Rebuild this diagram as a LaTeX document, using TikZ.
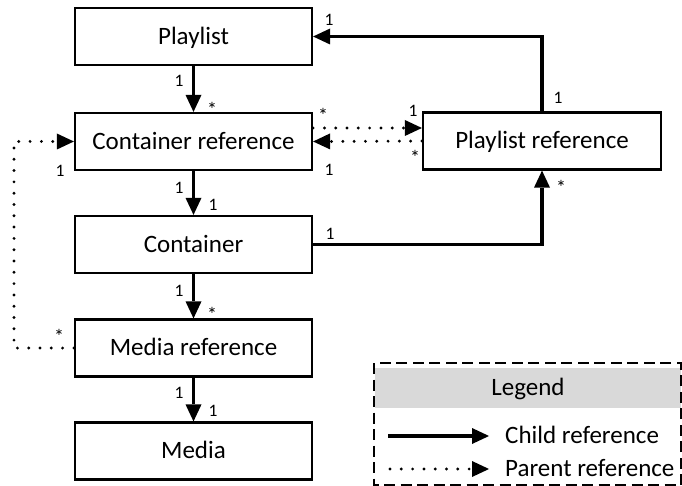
\documentclass[tikz,border=0pt]{standalone}
\usepackage{fontspec}
\setmainfont{Carlito}
\usetikzlibrary{arrows.meta}
\definecolor{legendgray}{RGB}{217,217,217}

\begin{document}
\begin{tikzpicture}[x=1pt,y=-1pt,
  entity/.style={draw, line width=2.2pt, minimum width=237pt, minimum height=57pt,
    inner sep=0pt, font=\fontsize{25}{30}\selectfont, text height=15.8pt, text depth=0pt},
  child/.style={line width=3.2pt, -{Triangle[length=17pt,width=16pt,line width=0pt]}},
  parent/.style={line width=3.2pt, line cap=round, dash pattern=on 0pt off 11.3pt,
    -{Triangle[length=17pt,width=16pt,line width=0pt]}},
  mult/.style={inner sep=0pt, font=\fontsize{17.5}{20}\selectfont, text height=11pt, text depth=0pt},
  starlbl/.style={inner sep=0pt, font=\fontsize{20}{24}\selectfont, text height=12.6pt, text depth=0pt, yshift=-4pt},
  legtext/.style={inner sep=0pt, font=\fontsize{25}{30}\selectfont, text height=15.8pt, text depth=0pt},
]
\useasboundingbox (0,0) rectangle (682,486);

% entities
\node[entity] (playlist)  at (193.5,36.5) {Playlist};
\node[entity] (contref)   at (193.5,141.5) {Container reference};
\node[entity] (container) at (193.5,244.5) {Container};
\node[entity] (mediaref)  at (193.5,348) {Media reference};
\node[entity] (media)     at (193.5,451) {Media};
\node[entity, minimum width=238pt] (plref) at (542,141) {Playlist reference};

% child references
\draw[child] (playlist) -- (contref);
\draw[child] (contref) -- (container);
\draw[child] (container) -- (mediaref);
\draw[child] (mediaref) -- (media);
\draw[child] (plref.north) |- (playlist.east);
\draw[child] (container.east) -| (plref.south);

% parent references
\draw[parent] ([yshift=13.5pt]contref.east) -- ([yshift=13pt]plref.west);
\draw[parent] (plref.west) -- (contref.east);
\coordinate (loopbot) at (14,348);
\draw[parent] (mediaref.west) -- (loopbot) |- (contref.west);

% multiplicities
\node[mult]    (m1)  at (179,81)  {1};
\node[starlbl] (m2)  at (212,106) {*};
\node[mult]    (m3)  at (179,188) {1};
\node[mult]    (m4)  at (213,205) {1};
\node[mult]    (m5)  at (179,291) {1};
\node[starlbl] (m6)  at (212,311) {*};
\node[mult]    (m7)  at (179,393) {1};
\node[mult]    (m8)  at (213,411) {1};
\node[mult]    (m9)  at (329,20)  {1};
\node[mult]    (m10) at (558,98)  {1};
\node[starlbl] (m11) at (323,112) {*};
\node[mult]    (m12) at (413,111) {1};
\node[starlbl] (m13) at (415,154) {*};
\node[mult]    (m14) at (329,170) {1};
\node[mult]    (m15) at (330,234) {1};
\node[starlbl] (m16) at (561,184) {*};
\node[mult]    (m17) at (60,171)  {1};
\node[starlbl] (m18) at (59,333)  {*};

% legend
\fill[legendgray] (375,368) rectangle (681,408);
\draw[line width=1.6pt, dash pattern=on 11pt off 5.5pt] (374,363) rectangle (681,485);
\node[legtext] (legtitle) at (528,388) {Legend};
\coordinate (ca) at (388,436);
\coordinate (cb) at (489,436);
\coordinate (pa) at (390,469);
\coordinate (pb) at (489,469);
\draw[child] (ca) -- (cb);
\draw[parent] (pa) -- (pb);
\node[legtext, anchor=west] (childtxt) at (505,436) {Child reference};
\node[legtext, anchor=west] (parenttxt) at (505,469) {Parent reference};
\end{tikzpicture}
\end{document}
